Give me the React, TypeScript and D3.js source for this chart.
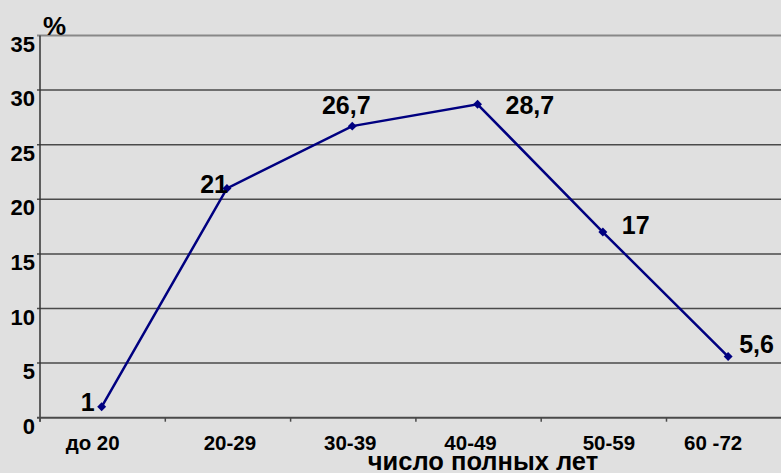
import React, { useEffect, useRef } from "react";
import * as d3 from "d3";

const categories = ["до 20", "20-29", "30-39", "40-49", "50-59", "60 -72"];
const values = [1, 21, 26.7, 28.7, 17, 5.6];
const valueLabels = ["1", "21", "26,7", "28,7", "17", "5,6"];
const yTicks = [0, 5, 10, 15, 20, 25, 30, 35];
// label placement relative to point: [anchor, dx, dy]
const labelPlacement: [string, number, number][] = [
  ["end", -7, 4],
  ["end", 1, 5],
  ["middle", -6, -12],
  ["start", 28, 10],
  ["start", 19, 2],
  ["start", 11, -4],
];
// category label shift relative to band centre
const catLabelShift = [-10, 2, -3, -8, 5, -16];

const W = 781;
const H = 473;

export default function App() {
  const ref = useRef<SVGSVGElement>(null);
  useEffect(() => {
    document.body.style.margin = "0";
    const svg = d3.select(ref.current);
    svg.selectAll("*").remove();
    const left = 40;
    const bandW = 125.3;
    const top = 35.5;
    const bottom = 417.7;
    const font = "'Liberation Sans', Arial, sans-serif";

    const x = d3
      .scaleBand<string>()
      .domain(categories)
      .range([left, left + bandW * categories.length]);
    const y = d3.scaleLinear().domain([0, 35]).range([bottom, top]);

    svg.append("rect").attr("width", W).attr("height", H).attr("fill", "#e0e0e0");

    // gridlines
    yTicks.forEach((t) => {
      if (t === 0) return;
      svg
        .append("line")
        .attr("x1", left - 3)
        .attr("x2", W)
        .attr("y1", y(t))
        .attr("y2", y(t))
        .attr("stroke", t === 35 ? "#888" : "#4a4a4a")
        .attr("stroke-width", t === 35 ? 2 : 1.5);
    });

    // y axis
    svg
      .append("line")
      .attr("x1", left)
      .attr("x2", left)
      .attr("y1", top)
      .attr("y2", bottom + 4)
      .attr("stroke", "#333")
      .attr("stroke-width", 1.5);
    // x axis
    svg
      .append("line")
      .attr("x1", left - 3)
      .attr("x2", W)
      .attr("y1", bottom)
      .attr("y2", bottom)
      .attr("stroke", "#4a4a4a")
      .attr("stroke-width", 2);
    categories.forEach((c) => {
      svg
        .append("line")
        .attr("x1", x(c)!)
        .attr("x2", x(c)!)
        .attr("y1", bottom)
        .attr("y2", bottom + 4)
        .attr("stroke", "#4a4a4a")
        .attr("stroke-width", 1.5);
    });

    // y labels
    svg
      .append("g")
      .selectAll("text")
      .data(yTicks)
      .join("text")
      .attr("x", 35)
      .attr("y", (d) => y(d) + 16)
      .attr("text-anchor", "end")
      .attr("font-family", font)
      .attr("font-weight", "bold")
      .attr("font-size", 22)
      .attr("fill", "#000")
      .text((d) => String(d));

    // x labels
    svg
      .append("g")
      .selectAll("text")
      .data(categories)
      .join("text")
      .attr("x", (d, i) => x(d)! + x.bandwidth() / 2 + catLabelShift[i])
      .attr("y", 449.5)
      .attr("text-anchor", "middle")
      .attr("font-family", font)
      .attr("font-weight", "bold")
      .attr("font-size", 20.5)
      .attr("fill", "#000")
      .text((d) => d);

    // axis titles
    svg
      .append("text")
      .attr("x", 483)
      .attr("y", 469.5)
      .attr("text-anchor", "middle")
      .attr("font-family", font)
      .attr("font-weight", "bold")
      .attr("font-size", 25.5)
      .text("число полных лет");
    svg
      .append("text")
      .attr("x", 43)
      .attr("y", 35)
      .attr("font-family", font)
      .attr("font-weight", "bold")
      .attr("font-size", 26)
      .text("%");

    const cx = (i: number) => x(categories[i])! + x.bandwidth() / 2 - 1;
    const line = d3
      .line<number>()
      .x((_, i) => cx(i))
      .y((d) => y(d));
    svg
      .append("path")
      .datum(values)
      .attr("d", line)
      .attr("fill", "none")
      .attr("stroke", "#000080")
      .attr("stroke-width", 2.5);

    const square = d3.symbol().type(d3.symbolSquare).size(40);
    svg
      .append("g")
      .selectAll("path")
      .data(values)
      .join("path")
      .attr("d", square)
      .attr("transform", (d, i) => `translate(${cx(i)},${y(d)}) rotate(45)`)
      .attr("fill", "#000080");

    svg
      .append("g")
      .selectAll("text")
      .data(values)
      .join("text")
      .attr("x", (d, i) => cx(i) + labelPlacement[i][1])
      .attr("y", (d, i) => y(d) + labelPlacement[i][2])
      .attr("text-anchor", (d, i) => labelPlacement[i][0])
      .attr("font-family", font)
      .attr("font-weight", "bold")
      .attr("font-size", 25)
      .attr("fill", "#000")
      .text((d, i) => valueLabels[i]);
  }, []);
  return <svg ref={ref} width={W} height={H} style={{ display: "block" }} />;
}
